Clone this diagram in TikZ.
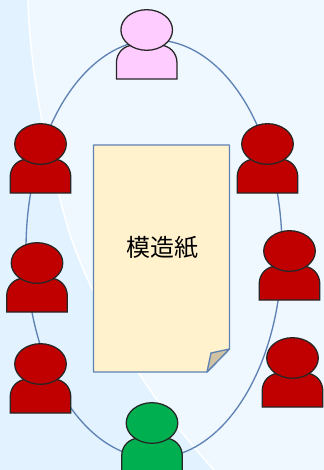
\documentclass[tikz,border=0pt]{standalone}
\usepackage{fontspec}
\newfontfamily\cjkfont{Noto Sans CJK JP}
\definecolor{bgA}{HTML}{F0F8FF}
\definecolor{bgB}{HTML}{E2F3FF}
\definecolor{ringc}{HTML}{5F82B4}
\definecolor{paperc}{HTML}{FFF2CC}
\definecolor{foldc}{HTML}{D0C3A4}
\definecolor{redc}{HTML}{C00000}
\definecolor{pinkc}{HTML}{FFCCFF}
\definecolor{greenc}{HTML}{00B050}
\definecolor{edgec}{HTML}{262626}
\tikzset{
  ring/.style={draw=ringc,line width=1pt},
  sheet/.style={draw=ringc,line width=1pt,fill=paperc,line join=round},
  pics/person/.style={code={
    \draw[edgec,line width=0.95pt,fill=#1] (-30.3,0) -- (-30.3,-16)
      .. controls (-30.3,-26) and (-23,-34) .. (-12,-34) -- (12,-34)
      .. controls (23,-34) and (30.3,-26) .. (30.3,-16) -- (30.3,0) -- cycle;
    \draw[edgec,line width=0.95pt,fill=#1] (0,-49) ellipse[x radius=25.8,y radius=20.3];
  }}
}
\begin{document}
\begin{tikzpicture}[x=0.75pt,y=-0.75pt]
\useasboundingbox (0,0) rectangle (324,470);
\clip (0,0) rectangle (324,470);
\fill[bgA] (0,0) rectangle (324,470);
\fill[bgB] (0,0) -- (28,0) .. controls (30,70) and (45,150) .. (70,235)
  .. controls (100,320) and (150,400) .. (214,470) -- (0,470) -- cycle;
\draw[white,line width=1.1pt] (28,0) .. controls (30,70) and (45,150) .. (70,235)
  .. controls (100,320) and (150,400) .. (214,470);
\draw[ring] (154,249) ellipse[x radius=128,y radius=209];
\pic at (146.7,79) {person=pinkc};
\pic at (40.5,193) {person=redc};
\pic at (267.5,193) {person=redc};
\pic at (37,312) {person=redc};
\pic at (40.5,413) {person=redc};
\pic at (289.5,300) {person=redc};
\pic at (292.5,407) {person=redc};
\pic at (152,472) {person=greenc};
\draw[sheet] (93.5,145) -- (229.5,145) -- (229.5,349) -- (207,372) -- (93.5,372) -- cycle;
\draw[ring,fill=foldc,line join=round] (229.5,349) -- (211,353) -- (207,372) -- cycle;
\node[font=\cjkfont\fontsize{18}{18}\selectfont,text=black,inner sep=0pt] (label) at (162,248) {模造紙};
\end{tikzpicture}
\end{document}
